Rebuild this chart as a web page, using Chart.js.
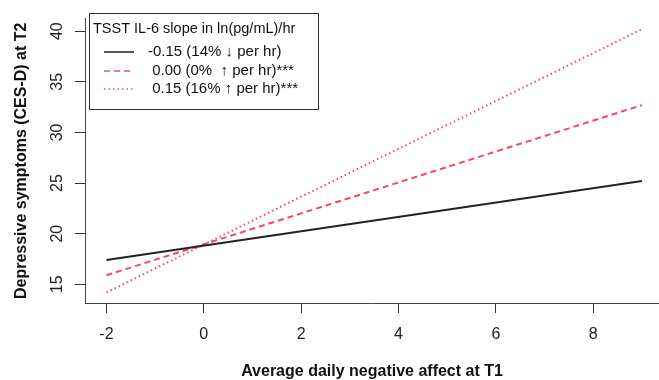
<!DOCTYPE html>
<html>
<head>
<meta charset="utf-8">
<script src="https://cdn.jsdelivr.net/npm/chart.js@4.4.0/dist/chart.umd.min.js"></script>
<style>
  html, body { margin: 0; padding: 0; background: #fff; overflow: hidden; }
  #wrap { width: 659px; height: 380px; }
</style>
</head>
<body>
<div id="wrap"><canvas id="ilChart" width="659" height="380"></canvas></div>
<script>
  // values
  var xVals = [-2, 9];
  var lowSlopeY = [17.4, 25.2];
  var zeroSlopeY = [15.9, 32.7];
  var highSlopeY = [14.2, 40.2];

  var xTicks = [-2, 0, 2, 4, 6, 8];
  var yTicks = [15, 20, 25, 30, 35, 40];

  var legendTitle = 'TSST IL-6 slope in ln(pg/mL)/hr';
  var legendLabels = ['-0.15 (14% \u2193 per hr)', ' 0.00 (0%  \u2191 per hr)***', ' 0.15 (16% \u2191 per hr)***'];

  var fontFam = '"Liberation Sans", Arial, Helvetica, sans-serif';
  var redCol = '#f04a64';

  function toPoints(ys) {
    return xVals.map(function (x, i) { return { x: x, y: ys[i] }; });
  }

  var lineStyles = [
    { color: '#222222', dash: [] },
    { color: redCol, dash: [6, 4] },
    { color: redCol, dash: [1.5, 3] }
  ];

  // R style legend box in the top left corner
  var boxLegend = {
    id: 'boxLegend',
    afterDraw: function (chart) {
      var ctx = chart.ctx;
      ctx.save();
      ctx.strokeStyle = '#333';
      ctx.lineWidth = 1;
      ctx.strokeRect(89.5, 13.5, 229, 96);
      ctx.fillStyle = '#111';
      ctx.font = '14.5px ' + fontFam;
      ctx.textBaseline = 'middle';
      ctx.textAlign = 'left';
      ctx.fillText(legendTitle, 93, 29);
      ctx.font = '15px ' + fontFam;
      var rows = [52, 71, 89];
      legendLabels.forEach(function (lab, i) {
        var st = lineStyles[i];
        ctx.beginPath();
        ctx.setLineDash(st.dash);
        ctx.strokeStyle = st.color;
        ctx.lineWidth = 1.5;
        ctx.moveTo(104, rows[i]);
        ctx.lineTo(134, rows[i]);
        ctx.stroke();
        ctx.setLineDash([]);
        ctx.fillText(lab, 148, rows[i]);
      });
      ctx.restore();
    }
  };

  var ctx = document.getElementById('ilChart').getContext('2d');
  window.ilChart = new Chart(ctx, {
    type: 'scatter',
    data: {
      datasets: [
        { data: toPoints(lowSlopeY) },
        { data: toPoints(zeroSlopeY) },
        { data: toPoints(highSlopeY) }
      ].map(function (ds, i) {
        ds.showLine = true;
        ds.borderColor = lineStyles[i].color;
        ds.borderDash = lineStyles[i].dash;
        ds.borderWidth = 2;
        ds.pointRadius = 0;
        ds.fill = false;
        return ds;
      })
    },
    options: {
      responsive: false,
      animation: false,
      layout: { padding: { top: 12, right: 0, left: 0, bottom: 0 } },
      plugins: {
        legend: { display: false },
        tooltip: { enabled: false }
      },
      scales: {
        x: {
          type: 'linear',
          min: -2.44,
          max: 9.35,
          afterBuildTicks: function (scale) {
            scale.ticks = xTicks.map(function (v) { return { value: v }; });
          },
          afterFit: function (scale) { scale.height = 77; },
          grid: { drawOnChartArea: false, drawTicks: true, tickLength: 10, tickColor: '#333' },
          border: { display: true, color: '#444', width: 1 },
          ticks: { color: '#222', font: { family: fontFam, size: 16 }, padding: 12, maxRotation: 0 },
          title: {
            display: true,
            text: 'Average daily negative affect at T1',
            color: '#111',
            font: { family: fontFam, size: 16, weight: 'bold', lineHeight: 1 },
            padding: { top: 0, bottom: 0 }
          }
        },
        y: {
          type: 'linear',
          min: 13.16,
          max: 41.24,
          afterBuildTicks: function (scale) {
            scale.ticks = yTicks.map(function (v) { return { value: v }; });
          },
          afterFit: function (scale) { scale.width = 85; },
          grid: { drawOnChartArea: false, drawTicks: true, tickLength: 10, tickColor: '#333' },
          border: { display: true, color: '#444', width: 1 },
          ticks: {
            color: '#222',
            font: { family: fontFam, size: 16 },
            padding: 9,
            minRotation: 90,
            maxRotation: 90,
            crossAlign: 'center'
          },
          title: {
            display: true,
            text: 'Depressive symptoms (CES-D) at T2',
            color: '#111',
            font: { family: fontFam, size: 16, weight: 'bold', lineHeight: 1 },
            padding: { top: 14, bottom: 0 }
          }
        }
      }
    },
    plugins: [boxLegend]
  });
</script>
</body>
</html>
